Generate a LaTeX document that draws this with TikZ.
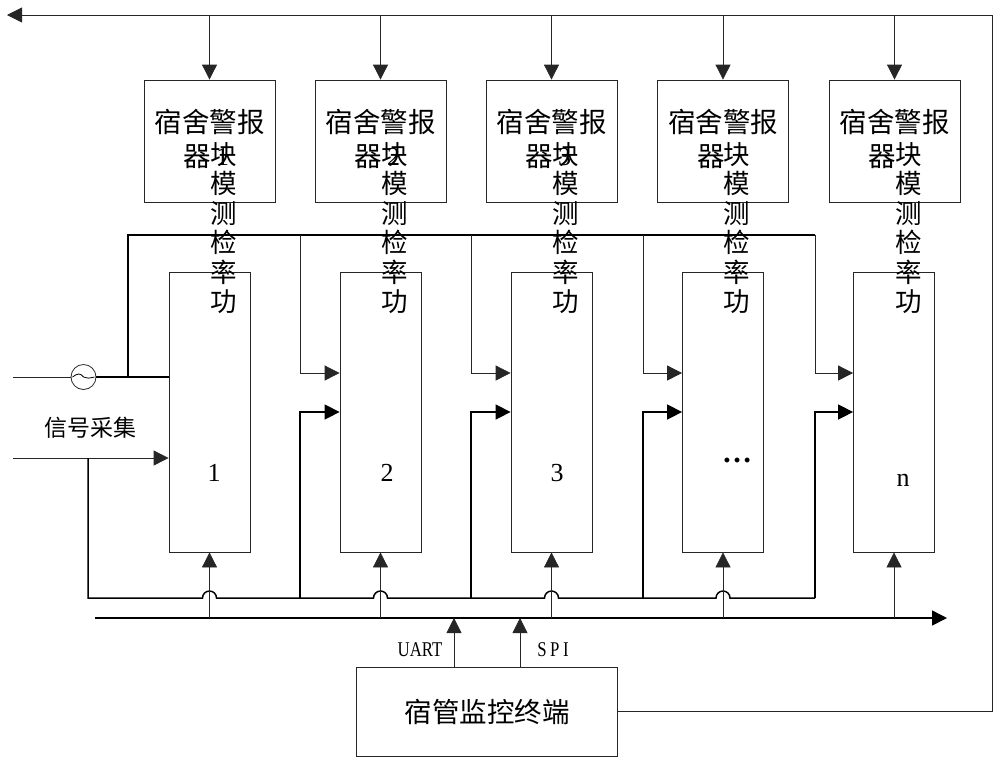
\documentclass[tikz,border=0pt]{standalone}
\usepackage{fontspec}
\setmainfont{Liberation Serif}
\newfontfamily\cjk{Noto Sans CJK SC}
\newfontfamily\cond[FakeStretch=0.8]{Liberation Serif}
\usetikzlibrary{arrows.meta,calc}
\begin{document}
\begin{tikzpicture}[x=1pt,y=-1pt,
  thin line/.style={draw=black!85,line width=0.8pt},
  thick line/.style={draw=black,line width=1.5pt},
  arr/.style={-{Triangle[length=15pt,width=15pt]}},
  alarm/.style={thin line,minimum width=131pt,minimum height=122pt,inner sep=0pt},
  module/.style={thin line,minimum width=81pt,minimum height=280pt,inner sep=0pt},
  term/.style={thin line,minimum width=261pt,minimum height=89pt,inner sep=0pt},
  cn/.style={font=\cjk\fontsize{27.5}{30}\selectfont,inner sep=0pt},
  vlabel/.style={font=\cjk\fontsize{26.5}{29.4}\selectfont,inner sep=0pt,align=center},
  num/.style={font=\fontsize{26}{28}\selectfont,inner sep=0pt},
  small/.style={font=\cond\fontsize{21}{22}\selectfont,inner sep=0pt}]
\useasboundingbox (0,0) rectangle (1000,764);

% alarm boxes
\foreach \i/\x in {1/209.5,2/380.5,3/551.5,4/723,5/894.5}{
  \node[alarm] (a\i) at (\x,141) {};
  \node[cn] (at\i) at (\x,122) {宿舍警报};
  \node[cn] (aq\i) at ($(a\i.center)+(-12pt,-16pt)$) {器};
}
% module boxes
\foreach \i/\x in {1/209.5,2/380.5,3/551.5,4/723,5/894}{
  \node[module] (m\i) at (\x,412) {};
  \node[vlabel] (v\i) at ($(a\i.center)+(14pt,-87pt)$) {块\\模\\测\\检\\率\\功};
}
\foreach \i/\t in {1/1,2/2,3/3}{
  \node[num] (vd\i) at ($(a\i.center)+(13pt,-16pt)$) {\t};
}
\node[num] (n1) at (214,473) {1};
\node[num] (n2) at (387,473) {2};
\node[num] (n3) at (557,473) {3};
\node[font=\bfseries\fontsize{30}{30}\selectfont,inner sep=0pt] (n4) at (737,460) {…};
\node[num] (n5) at (903,480) {n};

% terminal
\node[term] (term) at (486.5,711.5) {};
\node[cn] (termt) at (487,712) {宿管监控终端};

% coordinates
\coordinate (tl) at (7,15);
\coordinate (tr) at (992,15);
\coordinate (u0) at (128,235);
\coordinate (ue) at (815,235);
\coordinate (s1) at (13,377);
\coordinate (s2) at (13,458);
\coordinate (j0) at (88,458);
\coordinate (b0) at (88,598);
\coordinate (L0) at (95,618);
\coordinate (L1) at (947,618);
\coordinate (d2) at (300,598);
\coordinate (d3) at (471,598);
\coordinate (d4) at (643,598);
\coordinate (d5) at (815,598);

% feedback line from terminal to top
\draw[thin line,arr] (term.east) -| (tr) -- (tl);
\foreach \i in {1,...,5}{
  \draw[thin line,arr] (a\i.north |- tl) -- (a\i.north);
}

% signal input with oscillator symbol
\node[thin line,circle,minimum size=25pt,inner sep=0pt] (osc) at (83.5,377) {};
\draw[line width=0.8pt] ($(osc.center)+(-11pt,0)$) .. controls ($(osc.center)+(-6pt,4pt)$) and ($(osc.center)+(-3pt,4pt)$) .. ($(osc.center)+(0,0)$)
  .. controls ($(osc.center)+(3pt,-2pt)$) and ($(osc.center)+(6pt,-1pt)$) .. ($(osc.center)+(11pt,0)$);
\draw[thin line] (s1) -- (osc.west);
\draw[line width=1.2pt] (osc.east) -- (m1.west |- osc);
\node[font=\cjk\fontsize{23}{25}\selectfont,inner sep=0pt] (sig) at (90,428) {信号采集};
\draw[thin line,arr] (s2) -- (m1.west |- s2);

% upper distribution line
\draw[line width=1.2pt] (u0 |- osc) -- (u0) -- (ue);
\foreach \i/\d in {2/d2,3/d3,4/d4,5/d5}{
  \draw[thin line,arr] (\d |- u0) |- ([yshift=39pt]m\i.west);
  \draw[thick line,arr] (\d) |- (m\i.west);
}

% bus with hops
\draw[thick line] (j0) -- (b0)
  -- ($(m1.south |- b0)+(-7pt,0)$) arc[start angle=180,end angle=0,radius=7pt]
  -- ($(m2.south |- b0)+(-7pt,0)$) arc[start angle=180,end angle=0,radius=7pt]
  -- ($(m3.south |- b0)+(-7pt,0)$) arc[start angle=180,end angle=0,radius=7pt]
  -- ($(m4.south |- b0)+(-7pt,0)$) arc[start angle=180,end angle=0,radius=7pt]
  -- (d5);

% lower bus
\draw[thick line,arr] (L0) -- (L1);
\foreach \i in {1,...,5}{
  \draw[thin line,arr] (m\i.south |- L0) -- (m\i.south);
}

% terminal links
\draw[thin line,arr] ([xshift=-32.5pt]term.north) -- ([xshift=-32.5pt]term.north |- L0);
\draw[thin line,arr] ([xshift=33.5pt]term.north) -- ([xshift=33.5pt]term.north |- L0);
\node[small] (uart) at (420,650) {UART};
\node[small] (spi) at (553,650) {S\,P\,I};
\end{tikzpicture}
\end{document}
